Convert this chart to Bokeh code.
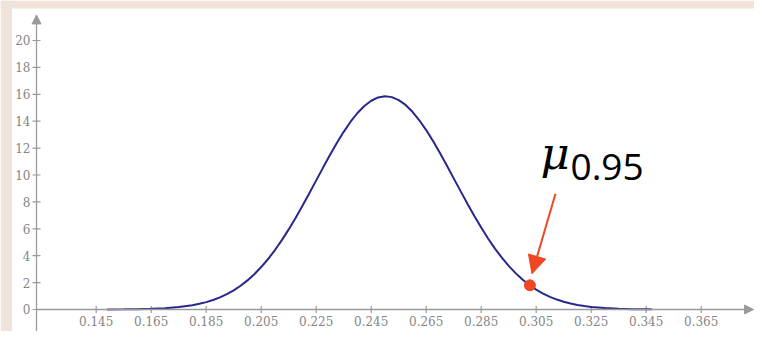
import math
from bokeh.plotting import figure
from bokeh.models import Range1d, Arrow, NormalHead, ColumnDataSource, BoxAnnotation
from bokeh.core.properties import value
from bokeh.embed import file_html
from bokeh.resources import INLINE

# ---- data ----
x_ticks = [0.145, 0.165, 0.185, 0.205, 0.225, 0.245, 0.265, 0.285, 0.305, 0.325, 0.345, 0.365]
x_tick_labels = ["0.145", "0.165", "0.185", "0.205", "0.225", "0.245", "0.265", "0.285",
                 "0.305", "0.325", "0.345", "0.365"]
y_ticks = [0, 2, 4, 6, 8, 10, 12, 14, 16, 18, 20]
y_tick_labels = ["0", "2", "4", "6", "8", "10", "12", "14", "16", "18", "20"]

curve_x = [0.149, 0.155, 0.160, 0.165, 0.170, 0.175, 0.180, 0.1825, 0.185, 0.1875,
           0.190, 0.1925, 0.195, 0.1975, 0.200, 0.2025, 0.205, 0.2075, 0.210, 0.2125,
           0.215, 0.2175, 0.220, 0.2225, 0.225, 0.2275, 0.230, 0.2325, 0.235, 0.2375,
           0.240, 0.2425, 0.245, 0.2475, 0.250, 0.2525, 0.255, 0.2575, 0.260, 0.2625,
           0.265, 0.2675, 0.270, 0.2725, 0.275, 0.2775, 0.280, 0.2825, 0.285, 0.2875,
           0.290, 0.2925, 0.295, 0.2975, 0.300, 0.3025, 0.305, 0.3075, 0.310, 0.3125,
           0.315, 0.3175, 0.320, 0.3225, 0.325, 0.330, 0.335, 0.340, 0.347]
curve_y = [0.005, 0.012, 0.026, 0.051, 0.098, 0.181, 0.322, 0.424, 0.550, 0.709,
           0.904, 1.141, 1.426, 1.766, 2.163, 2.625, 3.155, 3.753, 4.42, 5.156,
           5.955, 6.81, 7.71, 8.65, 9.60, 10.55, 11.49, 12.38, 13.21, 13.96,
           14.61, 15.13, 15.52, 15.77, 15.86, 15.79, 15.57, 15.21, 14.70, 14.07,
           13.34, 12.52, 11.63, 10.71, 9.75, 8.80, 7.86, 6.95, 6.09, 5.28,
           4.53, 3.854, 3.245, 2.705, 2.233, 1.825, 1.477, 1.183, 0.939, 0.738,
           0.574, 0.442, 0.337, 0.254, 0.190, 0.103, 0.054, 0.027, 0.010]

point_x = [0.3027]
point_y = [1.80]

label_main = "μ"
label_sub = "0.95"

# ---- layout constants ----
X_RANGE = (0.1102, 0.38438)
Y_RANGE = (-1.636, 22.974)
AXIS_X = 0.12329          # x position of the vertical axis
X_ARROW_END = 0.38402
Y_ARROW_END = 21.90
ANN_START = (0.31202, 8.60)
ANN_END = (0.30347, 2.654)
MU_POS = (0.30656, 11.60)
SUB_POS = (0.31747, 10.63)
TOP_BAND_BOTTOM = 22.379
LEFT_BAND_RIGHT = 0.11438

AXIS_COLOR = "#9a9a9a"
LABEL_COLOR = "#858585"
CURVE_COLOR = "#27278c"
RED = "#ef4723"
BEIGE = "#efe3da"

p = figure(width=754, height=331, output_backend="svg", toolbar_location=None,
           x_axis_location=None, y_axis_location=None, min_border=0,
           x_range=Range1d(*X_RANGE), y_range=Range1d(*Y_RANGE))
p.grid.visible = False
p.outline_line_color = None
p.background_fill_color = "white"
p.border_fill_color = "white"

# beige frame bands
p.add_layout(BoxAnnotation(bottom=TOP_BAND_BOTTOM, fill_color=BEIGE, fill_alpha=1,
                           line_color=None, level="underlay"))
p.add_layout(BoxAnnotation(right=LEFT_BAND_RIGHT, fill_color=BEIGE, fill_alpha=1,
                           line_color=None, level="underlay"))

# axes with arrow heads
p.add_layout(Arrow(end=NormalHead(size=9, fill_color=AXIS_COLOR, line_color=AXIS_COLOR),
                   x_start=AXIS_X, y_start=0, x_end=X_ARROW_END, y_end=0,
                   line_color=AXIS_COLOR, line_width=1.3))
p.add_layout(Arrow(end=NormalHead(size=9, fill_color=AXIS_COLOR, line_color=AXIS_COLOR),
                   x_start=AXIS_X, y_start=Y_RANGE[0], x_end=AXIS_X, y_end=Y_ARROW_END,
                   line_color=AXIS_COLOR, line_width=1.3))

# ticks
xt = ColumnDataSource(dict(x=x_ticks, y=[0] * len(x_ticks), t=x_tick_labels))
yt = ColumnDataSource(dict(x=[AXIS_X] * len(y_ticks), y=y_ticks, t=y_tick_labels))
p.scatter("x", "y", source=xt, marker="dash", size=7, angle=math.pi / 2,
          line_color=AXIS_COLOR, line_width=1.2)
p.scatter("x", "y", source=yt, marker="dash", size=8,
          line_color=AXIS_COLOR, line_width=1.2)
p.text("x", "y", text="t", source=xt, text_font=value("DejaVu Serif"),
       text_font_size="12px", text_color=LABEL_COLOR, text_align="center",
       text_baseline="top", y_offset=7)
p.text("x", "y", text="t", source=yt, text_font=value("DejaVu Serif"),
       text_font_size="12px", text_color=LABEL_COLOR, text_align="right",
       text_baseline="middle", x_offset=-6)

# curve
p.line(curve_x, curve_y, line_color=CURVE_COLOR, line_width=2)

# highlighted point
p.scatter(point_x, point_y, size=11, fill_color=RED, line_color=RED)

# annotation arrow
p.add_layout(Arrow(end=NormalHead(size=18, fill_color=RED, line_color=RED),
                   x_start=ANN_START[0], y_start=ANN_START[1],
                   x_end=ANN_END[0], y_end=ANN_END[1],
                   line_color=RED, line_width=2))

# label mu_0.95
p.text([MU_POS[0]], [MU_POS[1]], text=[label_main], text_font=value("DejaVu Serif"),
       text_font_style="italic", text_font_size="45px", text_color="black",
       text_align="left", text_baseline="alphabetic")
p.text([SUB_POS[0]], [SUB_POS[1]], text=[label_sub], text_font=value("Open Sans"),
       text_font_size="37px", text_color="black",
       text_align="left", text_baseline="alphabetic")

open("out.html", "w").write(file_html(p, INLINE))
